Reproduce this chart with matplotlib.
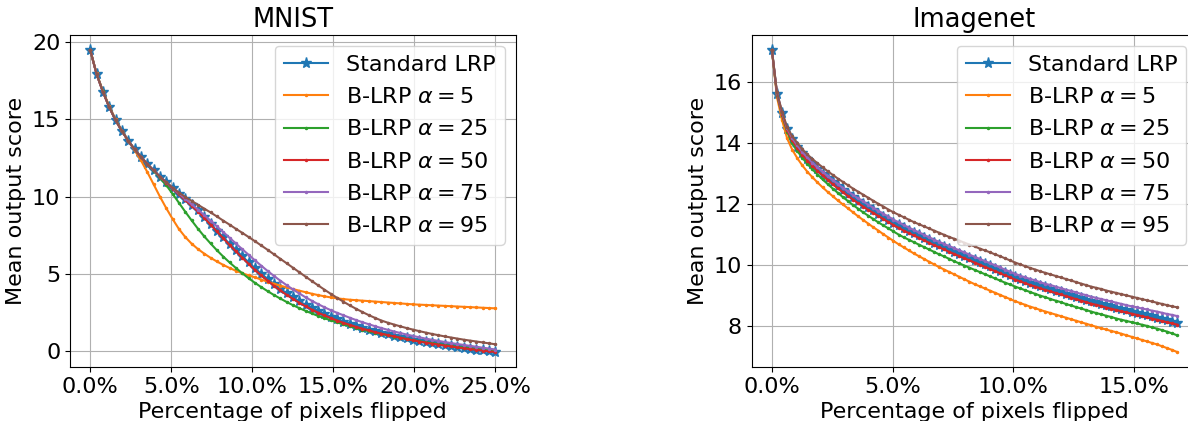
import numpy as np
import matplotlib
matplotlib.use("Agg")
import matplotlib.pyplot as plt
from matplotlib.ticker import PercentFormatter, MultipleLocator

# x positions: share of pixels flipped, in percent
mnist_x = np.linspace(0, 25, 65)
imagenet_x = np.arange(81) * 0.21

labels = ["Standard LRP", r"B-LRP $\alpha = 5$", r"B-LRP $\alpha = 25$",
          r"B-LRP $\alpha = 50$", r"B-LRP $\alpha = 75$", r"B-LRP $\alpha = 95$"]

# MNIST mean output scores
mnist_lrp = [19.50, 17.95, 16.80, 15.80, 14.95, 14.25, 13.62, 13.07, 12.57, 12.12,
             11.70, 11.30, 10.92, 10.55, 10.18, 9.82, 9.46, 9.10, 8.66, 8.22,
             7.79, 7.36, 6.94, 6.53, 6.13, 5.74, 5.36, 5.00, 4.66, 4.33,
             4.02, 3.73, 3.46, 3.21, 2.97, 2.75, 2.55, 2.36, 2.19, 2.03,
             1.88, 1.74, 1.61, 1.49, 1.37, 1.26, 1.16, 1.06, 0.97, 0.88,
             0.80, 0.72, 0.64, 0.57, 0.50, 0.43, 0.37, 0.31, 0.25, 0.19,
             0.13, 0.07, 0.02, -0.03, -0.08]
mnist_a5 = [19.50, 17.98, 16.85, 15.86, 15.00, 14.27, 13.62, 13.00, 12.35, 11.60,
            10.80, 10.00, 9.25, 8.55, 7.90, 7.38, 6.95, 6.60, 6.30, 6.03,
            5.79, 5.57, 5.37, 5.19, 5.03, 4.89, 4.76, 4.62, 4.48, 4.35,
            4.23, 4.11, 4.00, 3.90, 3.80, 3.70, 3.61, 3.53, 3.46, 3.40,
            3.35, 3.31, 3.28, 3.25, 3.22, 3.19, 3.16, 3.13, 3.10, 3.07,
            3.04, 3.01, 2.99, 2.97, 2.95, 2.93, 2.91, 2.89, 2.87, 2.85,
            2.83, 2.81, 2.79, 2.77, 2.75]
mnist_a25 = [19.50, 17.96, 16.82, 15.82, 14.97, 14.26, 13.63, 13.07, 12.56, 12.10,
             11.67, 11.22, 10.74, 10.18, 9.60, 9.02, 8.46, 7.92, 7.42, 6.96,
             6.52, 6.11, 5.73, 5.37, 5.03, 4.71, 4.41, 4.13, 3.87, 3.62,
             3.39, 3.17, 2.96, 2.77, 2.59, 2.42, 2.26, 2.11, 1.97, 1.84,
             1.71, 1.59, 1.48, 1.37, 1.27, 1.18, 1.09, 1.00, 0.92, 0.84,
             0.76, 0.69, 0.62, 0.55, 0.49, 0.43, 0.37, 0.31, 0.26, 0.21,
             0.16, 0.11, 0.07, 0.03, -0.01]
mnist_a50 = [19.50, 17.93, 16.78, 15.79, 14.94, 14.24, 13.61, 13.06, 12.56, 12.11,
             11.69, 11.29, 10.90, 10.52, 10.14, 9.77, 9.40, 9.03, 8.62, 8.18,
             7.74, 7.30, 6.87, 6.45, 6.04, 5.64, 5.25, 4.89, 4.55, 4.22,
             3.92, 3.63, 3.37, 3.12, 2.89, 2.67, 2.47, 2.29, 2.12, 1.96,
             1.81, 1.68, 1.55, 1.43, 1.32, 1.21, 1.11, 1.02, 0.93, 0.84,
             0.76, 0.68, 0.60, 0.53, 0.46, 0.40, 0.34, 0.28, 0.22, 0.16,
             0.11, 0.06, 0.01, -0.04, -0.08]
mnist_a75 = [19.50, 17.95, 16.80, 15.80, 14.95, 14.25, 13.62, 13.07, 12.57, 12.12,
             11.70, 11.30, 10.93, 10.57, 10.21, 9.86, 9.51, 9.16, 8.80, 8.44,
             8.07, 7.70, 7.33, 6.96, 6.59, 6.23, 5.87, 5.52, 5.18, 4.86,
             4.55, 4.26, 3.98, 3.72, 3.47, 3.24, 3.02, 2.82, 2.63, 2.46,
             2.30, 2.14, 1.99, 1.85, 1.72, 1.59, 1.47, 1.36, 1.25, 1.15,
             1.05, 0.96, 0.87, 0.79, 0.71, 0.64, 0.57, 0.50, 0.44, 0.38,
             0.32, 0.26, 0.20, 0.14, 0.08]
mnist_a95 = [19.50, 17.95, 16.80, 15.80, 14.95, 14.25, 13.62, 13.07, 12.57, 12.12,
             11.70, 11.30, 10.93, 10.58, 10.26, 9.98, 9.72, 9.47, 9.22, 8.97,
             8.71, 8.44, 8.18, 7.91, 7.65, 7.38, 7.11, 6.83, 6.55, 6.26,
             5.97, 5.68, 5.39, 5.10, 4.81, 4.52, 4.24, 3.96, 3.69, 3.43,
             3.18, 2.94, 2.72, 2.51, 2.31, 2.13, 1.96, 1.82, 1.70, 1.58,
             1.47, 1.37, 1.27, 1.18, 1.09, 1.01, 0.93, 0.86, 0.79, 0.72,
             0.66, 0.60, 0.54, 0.48, 0.42]

# Imagenet mean output scores
imnet_lrp = [17.05, 15.62, 14.98, 14.45, 14.12, 13.88, 13.66, 13.47, 13.30, 13.14,
             12.99, 12.85, 12.71, 12.58, 12.45, 12.33, 12.21, 12.10, 11.99, 11.88,
             11.78, 11.68, 11.58, 11.48, 11.38, 11.29, 11.20, 11.12, 11.04, 10.96,
             10.88, 10.80, 10.72, 10.65, 10.58, 10.50, 10.43, 10.36, 10.29, 10.22,
             10.15, 10.08, 10.01, 9.94, 9.87, 9.80, 9.73, 9.66, 9.59, 9.53,
             9.47, 9.41, 9.36, 9.30, 9.25, 9.20, 9.15, 9.10, 9.05, 9.00,
             8.95, 8.90, 8.85, 8.80, 8.76, 8.72, 8.67, 8.63, 8.58, 8.54,
             8.50, 8.46, 8.42, 8.38, 8.34, 8.30, 8.26, 8.21, 8.17, 8.12,
             8.07]
imnet_a5 = [17.05, 15.50, 14.75, 14.15, 13.78, 13.50, 13.26, 13.05, 12.87, 12.70,
            12.54, 12.39, 12.25, 12.11, 11.98, 11.85, 11.72, 11.59, 11.47, 11.35,
            11.23, 11.12, 11.00, 10.89, 10.78, 10.67, 10.57, 10.47, 10.37, 10.28,
            10.19, 10.10, 10.01, 9.92, 9.84, 9.76, 9.68, 9.60, 9.52, 9.44,
            9.36, 9.29, 9.22, 9.15, 9.08, 9.01, 8.94, 8.87, 8.80, 8.74,
            8.68, 8.62, 8.57, 8.51, 8.46, 8.41, 8.36, 8.31, 8.26, 8.21,
            8.16, 8.11, 8.06, 8.01, 7.96, 7.91, 7.87, 7.82, 7.78, 7.73,
            7.68, 7.63, 7.58, 7.53, 7.48, 7.43, 7.38, 7.32, 7.26, 7.20,
            7.13]
imnet_a25 = [17.05, 15.58, 14.92, 14.36, 14.00, 13.74, 13.51, 13.31, 13.13, 12.96,
             12.80, 12.65, 12.50, 12.36, 12.22, 12.09, 11.96, 11.84, 11.72, 11.61,
             11.50, 11.39, 11.29, 11.19, 11.09, 10.99, 10.90, 10.82, 10.74, 10.66,
             10.58, 10.50, 10.42, 10.34, 10.27, 10.19, 10.11, 10.04, 9.97, 9.90,
             9.83, 9.76, 9.69, 9.62, 9.55, 9.48, 9.41, 9.35, 9.28, 9.22,
             9.16, 9.10, 9.04, 8.98, 8.93, 8.87, 8.82, 8.77, 8.71, 8.66,
             8.61, 8.56, 8.51, 8.46, 8.41, 8.37, 8.32, 8.28, 8.23, 8.19,
             8.15, 8.11, 8.07, 8.03, 7.99, 7.94, 7.90, 7.85, 7.80, 7.74,
             7.68]
imnet_a50 = [17.05, 15.60, 14.95, 14.42, 14.08, 13.84, 13.61, 13.42, 13.25, 13.08,
             12.93, 12.79, 12.64, 12.51, 12.38, 12.26, 12.14, 12.02, 11.91, 11.80,
             11.70, 11.60, 11.50, 11.40, 11.30, 11.21, 11.12, 11.04, 10.96, 10.88,
             10.80, 10.72, 10.64, 10.57, 10.50, 10.42, 10.35, 10.28, 10.21, 10.14,
             10.07, 10.00, 9.93, 9.86, 9.79, 9.72, 9.65, 9.58, 9.51, 9.45,
             9.39, 9.33, 9.28, 9.22, 9.17, 9.12, 9.07, 9.02, 8.97, 8.92,
             8.87, 8.82, 8.77, 8.72, 8.68, 8.64, 8.59, 8.55, 8.51, 8.47,
             8.43, 8.39, 8.35, 8.31, 8.27, 8.23, 8.19, 8.15, 8.11, 8.07,
             8.03]
imnet_a75 = [17.05, 15.64, 15.00, 14.48, 14.16, 13.92, 13.70, 13.52, 13.35, 13.20,
             13.05, 12.91, 12.78, 12.65, 12.52, 12.41, 12.29, 12.18, 12.08, 11.97,
             11.87, 11.77, 11.67, 11.58, 11.48, 11.39, 11.30, 11.22, 11.14, 11.06,
             10.98, 10.90, 10.82, 10.75, 10.68, 10.61, 10.54, 10.47, 10.40, 10.33,
             10.26, 10.19, 10.12, 10.05, 9.98, 9.91, 9.84, 9.77, 9.70, 9.64,
             9.58, 9.53, 9.48, 9.42, 9.37, 9.33, 9.28, 9.23, 9.18, 9.14,
             9.09, 9.04, 9.00, 8.95, 8.91, 8.87, 8.83, 8.79, 8.75, 8.71,
             8.67, 8.63, 8.60, 8.56, 8.53, 8.49, 8.46, 8.42, 8.38, 8.35,
             8.31]
imnet_a95 = [17.05, 15.66, 15.03, 14.52, 14.22, 14.00, 13.79, 13.62, 13.47, 13.33,
             13.20, 13.07, 12.95, 12.83, 12.72, 12.61, 12.50, 12.40, 12.30, 12.20,
             12.10, 12.00, 11.91, 11.81, 11.72, 11.64, 11.56, 11.48, 11.40, 11.33,
             11.26, 11.19, 11.12, 11.05, 10.98, 10.91, 10.85, 10.79, 10.72, 10.66,
             10.60, 10.53, 10.47, 10.41, 10.34, 10.28, 10.21, 10.14, 10.07, 10.01,
             9.95, 9.89, 9.84, 9.78, 9.73, 9.68, 9.63, 9.58, 9.53, 9.48,
             9.43, 9.38, 9.33, 9.28, 9.24, 9.20, 9.15, 9.11, 9.07, 9.03,
             8.99, 8.95, 8.91, 8.87, 8.83, 8.79, 8.75, 8.71, 8.67, 8.63,
             8.60]

FS = 16


def draw_panel(ax, x, series, title):
    # standard LRP with stars, the B-LRP variants with small dots
    ax.plot(x, series[0], marker="*", markersize=8, linewidth=1.5, label=labels[0])
    for ys, lab in zip(series[1:], labels[1:]):
        ax.plot(x, ys, marker=".", markersize=3, linewidth=1.5, label=lab)
    ax.set_title(title, fontsize=18.5)
    ax.set_xlabel("Percentage of pixels flipped", fontsize=FS)
    ax.set_ylabel("Mean output score", fontsize=FS)
    ax.xaxis.set_major_locator(MultipleLocator(5))
    ax.xaxis.set_major_formatter(PercentFormatter(100, decimals=1))
    ax.tick_params(labelsize=FS)
    ax.grid(True)
    ax.legend(loc="upper right", fontsize=FS, labelspacing=0.55)


fig = plt.figure(figsize=(11.88, 4.21), dpi=100)
ax1 = fig.add_axes([0.0589, 0.128, 0.3752, 0.789])
ax2 = fig.add_axes([0.6327, 0.128, 0.3752, 0.789])

draw_panel(ax1, mnist_x, [mnist_lrp, mnist_a5, mnist_a25, mnist_a50, mnist_a75, mnist_a95], "MNIST")
ax1.yaxis.set_major_locator(MultipleLocator(5))

draw_panel(ax2, imagenet_x, [imnet_lrp, imnet_a5, imnet_a25, imnet_a50, imnet_a75, imnet_a95], "Imagenet")
ax2.yaxis.set_major_locator(MultipleLocator(2))

fig.savefig("out.png", dpi=100)
